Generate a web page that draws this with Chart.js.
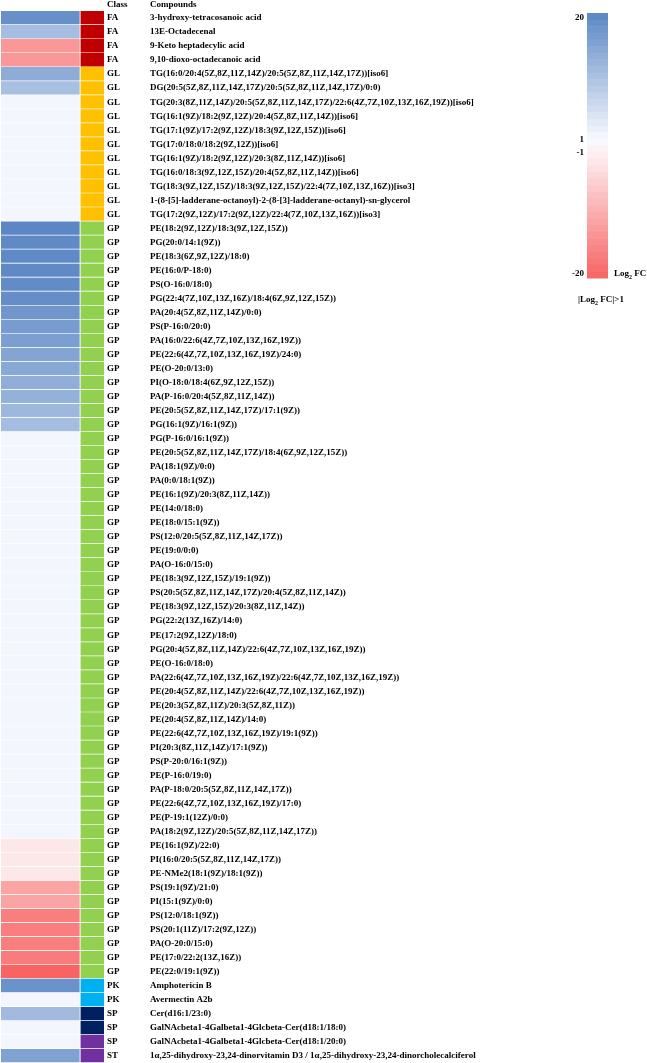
<!DOCTYPE html>
<html lang="en">
<head>
<meta charset="UTF-8">
<title>Log2 FC heatmap</title>
<script src="https://cdn.jsdelivr.net/npm/chart.js"></script>
<style>
  html, body { margin: 0; padding: 0; background: #fff; }
  #heat { display: block; }
</style>
</head>
<body>
<canvas id="heat" width="647" height="1063"></canvas>
<script>
const compounds = [
  '3-hydroxy-tetracosanoic acid',
  '13E-Octadecenal',
  '9-Keto heptadecylic acid',
  '9,10-dioxo-octadecanoic acid',
  'TG(16:0/20:4(5Z,8Z,11Z,14Z)/20:5(5Z,8Z,11Z,14Z,17Z))[iso6]',
  'DG(20:5(5Z,8Z,11Z,14Z,17Z)/20:5(5Z,8Z,11Z,14Z,17Z)/0:0)',
  'TG(20:3(8Z,11Z,14Z)/20:5(5Z,8Z,11Z,14Z,17Z)/22:6(4Z,7Z,10Z,13Z,16Z,19Z))[iso6]',
  'TG(16:1(9Z)/18:2(9Z,12Z)/20:4(5Z,8Z,11Z,14Z))[iso6]',
  'TG(17:1(9Z)/17:2(9Z,12Z)/18:3(9Z,12Z,15Z))[iso6]',
  'TG(17:0/18:0/18:2(9Z,12Z))[iso6]',
  'TG(16:1(9Z)/18:2(9Z,12Z)/20:3(8Z,11Z,14Z))[iso6]',
  'TG(16:0/18:3(9Z,12Z,15Z)/20:4(5Z,8Z,11Z,14Z))[iso6]',
  'TG(18:3(9Z,12Z,15Z)/18:3(9Z,12Z,15Z)/22:4(7Z,10Z,13Z,16Z))[iso3]',
  '1-(8-[5]-ladderane-octanoyl)-2-(8-[3]-ladderane-octanyl)-sn-glycerol',
  'TG(17:2(9Z,12Z)/17:2(9Z,12Z)/22:4(7Z,10Z,13Z,16Z))[iso3]',
  'PE(18:2(9Z,12Z)/18:3(9Z,12Z,15Z))',
  'PG(20:0/14:1(9Z))',
  'PE(18:3(6Z,9Z,12Z)/18:0)',
  'PE(16:0/P-18:0)',
  'PS(O-16:0/18:0)',
  'PG(22:4(7Z,10Z,13Z,16Z)/18:4(6Z,9Z,12Z,15Z))',
  'PA(20:4(5Z,8Z,11Z,14Z)/0:0)',
  'PS(P-16:0/20:0)',
  'PA(16:0/22:6(4Z,7Z,10Z,13Z,16Z,19Z))',
  'PE(22:6(4Z,7Z,10Z,13Z,16Z,19Z)/24:0)',
  'PE(O-20:0/13:0)',
  'PI(O-18:0/18:4(6Z,9Z,12Z,15Z))',
  'PA(P-16:0/20:4(5Z,8Z,11Z,14Z))',
  'PE(20:5(5Z,8Z,11Z,14Z,17Z)/17:1(9Z))',
  'PG(16:1(9Z)/16:1(9Z))',
  'PG(P-16:0/16:1(9Z))',
  'PE(20:5(5Z,8Z,11Z,14Z,17Z)/18:4(6Z,9Z,12Z,15Z))',
  'PA(18:1(9Z)/0:0)',
  'PA(0:0/18:1(9Z))',
  'PE(16:1(9Z)/20:3(8Z,11Z,14Z))',
  'PE(14:0/18:0)',
  'PE(18:0/15:1(9Z))',
  'PS(12:0/20:5(5Z,8Z,11Z,14Z,17Z))',
  'PE(19:0/0:0)',
  'PA(O-16:0/15:0)',
  'PE(18:3(9Z,12Z,15Z)/19:1(9Z))',
  'PS(20:5(5Z,8Z,11Z,14Z,17Z)/20:4(5Z,8Z,11Z,14Z))',
  'PE(18:3(9Z,12Z,15Z)/20:3(8Z,11Z,14Z))',
  'PG(22:2(13Z,16Z)/14:0)',
  'PE(17:2(9Z,12Z)/18:0)',
  'PG(20:4(5Z,8Z,11Z,14Z)/22:6(4Z,7Z,10Z,13Z,16Z,19Z))',
  'PE(O-16:0/18:0)',
  'PA(22:6(4Z,7Z,10Z,13Z,16Z,19Z)/22:6(4Z,7Z,10Z,13Z,16Z,19Z))',
  'PE(20:4(5Z,8Z,11Z,14Z)/22:6(4Z,7Z,10Z,13Z,16Z,19Z))',
  'PE(20:3(5Z,8Z,11Z)/20:3(5Z,8Z,11Z))',
  'PE(20:4(5Z,8Z,11Z,14Z)/14:0)',
  'PE(22:6(4Z,7Z,10Z,13Z,16Z,19Z)/19:1(9Z))',
  'PI(20:3(8Z,11Z,14Z)/17:1(9Z))',
  'PS(P-20:0/16:1(9Z))',
  'PE(P-16:0/19:0)',
  'PA(P-18:0/20:5(5Z,8Z,11Z,14Z,17Z))',
  'PE(22:6(4Z,7Z,10Z,13Z,16Z,19Z)/17:0)',
  'PE(P-19:1(12Z)/0:0)',
  'PA(18:2(9Z,12Z)/20:5(5Z,8Z,11Z,14Z,17Z))',
  'PE(16:1(9Z)/22:0)',
  'PI(16:0/20:5(5Z,8Z,11Z,14Z,17Z))',
  'PE-NMe2(18:1(9Z)/18:1(9Z))',
  'PS(19:1(9Z)/21:0)',
  'PI(15:1(9Z)/0:0)',
  'PS(12:0/18:1(9Z))',
  'PS(20:1(11Z)/17:2(9Z,12Z))',
  'PA(O-20:0/15:0)',
  'PE(17:0/22:2(13Z,16Z))',
  'PE(22:0/19:1(9Z))',
  'Amphotericin B',
  'Avermectin A2b',
  'Cer(d16:1/23:0)',
  'GalNAcbeta1-4Galbeta1-4Glcbeta-Cer(d18:1/18:0)',
  'GalNAcbeta1-4Galbeta1-4Glcbeta-Cer(d18:1/20:0)',
  '1\u03b1,25-dihydroxy-23,24-dinorvitamin D3 / 1\u03b1,25-dihydroxy-23,24-dinorcholecalciferol'
];

// 4 FA, 11 GL, 54 GP, 2 PK, 3 SP, 1 ST
const classes = [
  'FA','FA','FA','FA',
  'GL','GL','GL','GL','GL','GL','GL','GL','GL','GL','GL',
  'GP','GP','GP','GP','GP','GP','GP','GP','GP','GP','GP','GP','GP','GP','GP',
  'GP','GP','GP','GP','GP','GP','GP','GP','GP','GP','GP','GP','GP','GP','GP',
  'GP','GP','GP','GP','GP','GP','GP','GP','GP','GP','GP','GP','GP','GP','GP',
  'GP','GP','GP','GP','GP','GP','GP','GP','GP',
  'PK','PK','SP','SP','SP','ST'
];

// colour key of the class strip (the last SP row is drawn in the ST colour)
const classStrip = classes.map((c, i) => i === 73 ? 'ST' : c);

const log2fc = [
  18.5, 11, -13, -13,
  13.8, 10.7, 1.5, 1.5, 1.5, 1.5, 1.5, 1.5, 1.5, 1.5, 1.5,
  20, 19.5, 19.5, 19.5, 19.2, 18.8, 17.5, 16.5, 16, 15, 14.5, 13.5, 13, 12, 11,
  1.5, 1.5, 1.5, 1.5, 1.5, 1.5, 1.5, 1.5, 1.5, 1.5, 1.5, 1.5, 1.5, 1.5, 1.5,
  1.5, 1.5, 1.5, 1.5, 1.5, 1.5, 1.5, 1.5, 1.5, 1.5, 1.5, 1.5, 1.5, 1.5,
  -2.3, -2.3, -2.3, -11.5, -11.5, -16.5, -16.5, -16.5, -16.8, -20,
  18, 1.5, 11.5, 1.5, 1.5, 15.5
];

const classColors = {
  FA: '#c00000', GL: '#ffc000', GP: '#92d050',
  PK: '#00b0f0', SP: '#002060', ST: '#7030a0'
};

const legendTicks = [20, 1, -1, -20];

const FONT = "'Liberation Serif', 'Times New Roman', serif";

function fcColor(v) {
  const blue = [91, 135, 197], red = [248, 100, 100];
  const paleBlue = [247, 249, 253], palePink = [253, 242, 243];
  let a, b, t;
  if (v >= 0) { a = paleBlue; b = blue; t = (v - 1) / 19; }
  else { a = palePink; b = red; t = (-v - 1) / 19; }
  t = Math.max(0, Math.min(1, t));
  return 'rgb(' + a.map((c, k) => Math.round(c + (b[k] - c) * t)).join(',') + ')';
}

// text columns + colour key
const sidePlugin = {
  id: 'side',
  afterDraw(chart) {
    const ctx = chart.ctx;
    const y = chart.scales.y;
    ctx.save();
    ctx.fillStyle = '#000';
    ctx.textBaseline = 'middle';
    ctx.font = 'bold 9px ' + FONT;
    ctx.fillText('Class', 107, 5);
    ctx.fillText('Compounds', 150, 5);
    compounds.forEach((name, i) => {
      const py = y.getPixelForValue(i);
      ctx.fillText(classes[i], 107, py);
      ctx.fillText(name, 150, py);
    });

    // colour key
    const kx = 587, kw = 21, ktop = 13, kbot = 278, steps = 40;
    const bandH = (kbot - ktop) / steps;
    for (let k = 0; k < steps; k++) {
      const v = 20 - (k + 0.5) * 40 / steps;
      ctx.fillStyle = fcColor(v);
      ctx.fillRect(kx, ktop + k * bandH, kw, bandH + 0.5);
    }
    ctx.fillStyle = '#000';
    ctx.textAlign = 'right';
    legendTicks.forEach(t => {
      const ty = 146 - t * 6.4;
      ctx.fillText(String(t), 584, ty);
    });

    const drawLog = (x, yy) => {
      ctx.textAlign = 'left';
      ctx.font = 'bold 9px ' + FONT;
      ctx.fillText('Log', x, yy);
      let w = ctx.measureText('Log').width;
      ctx.font = 'bold 6px ' + FONT;
      ctx.fillText('2', x + w, yy + 3);
      w += ctx.measureText('2').width;
      ctx.font = 'bold 9px ' + FONT;
      ctx.fillText(' FC', x + w, yy);
      return w + ctx.measureText(' FC').width;
    };
    drawLog(614, 274);

    // |Log2 FC|>1 centred under the key
    ctx.font = 'bold 9px ' + FONT;
    const wBar = ctx.measureText('|').width;
    ctx.font = 'bold 6px ' + FONT;
    const w2 = ctx.measureText('2').width;
    ctx.font = 'bold 9px ' + FONT;
    const total = wBar + ctx.measureText('Log FC|>1').width + w2;
    let sx = 601 - total / 2;
    ctx.textAlign = 'left';
    ctx.fillText('|', sx, 300);
    sx += wBar;
    const lw = drawLog(sx, 300);
    ctx.font = 'bold 9px ' + FONT;
    ctx.fillText('|>1', sx + lw, 300);
    ctx.restore();
  }
};

new Chart(document.getElementById('heat'), {
  type: 'bar',
  data: {
    labels: compounds,
    datasets: [
      {
        label: 'Log2 FC',
        data: log2fc.map(() => 0.77),
        backgroundColor: log2fc.map(fcColor),
        borderColor: '#ffffff',
        borderWidth: { top: 0, right: 1, bottom: 1, left: 0 },
        borderSkipped: false,
        barPercentage: 1,
        categoryPercentage: 1
      },
      {
        label: 'Class',
        data: classes.map(() => 0.23),
        backgroundColor: classStrip.map(c => classColors[c]),
        borderColor: '#ffffff',
        borderWidth: { top: 0, right: 0, bottom: 1, left: 0 },
        borderSkipped: false,
        barPercentage: 1,
        categoryPercentage: 1
      }
    ]
  },
  options: {
    indexAxis: 'y',
    responsive: false,
    animation: false,
    layout: { padding: { left: 1, top: 11, right: 543, bottom: 0 } },
    plugins: { legend: { display: false }, tooltip: { enabled: false } },
    scales: {
      x: { stacked: true, min: 0, max: 1, display: false },
      y: { stacked: true, display: false }
    }
  },
  plugins: [sidePlugin]
});
</script>
</body>
</html>
